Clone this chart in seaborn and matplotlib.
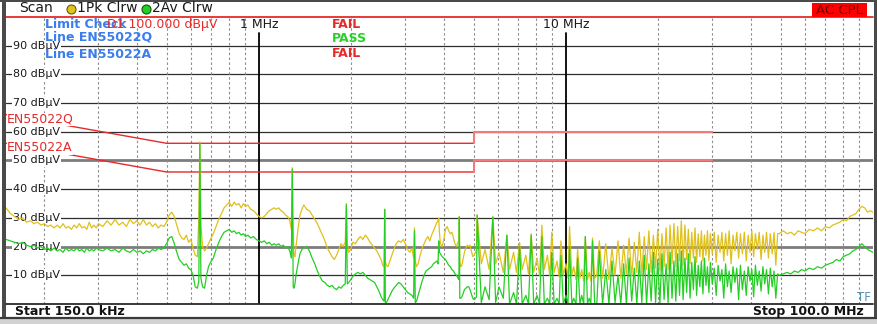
import matplotlib
matplotlib.use("Agg")
import matplotlib.pyplot as plt
import matplotlib.transforms as mtransforms
from matplotlib.patches import Rectangle
from matplotlib.lines import Line2D
import pandas as pd
import seaborn as sns

# ---------------- data (MHz, dBuV) ----------------
seg1_f = [0.150, 0.155, 0.160, 0.165, 0.170, 0.175, 0.180, 0.185, 0.190, 0.195,
          0.200, 0.205, 0.210, 0.215, 0.220, 0.225, 0.230, 0.235, 0.240, 0.245,
          0.250, 0.255, 0.260, 0.265, 0.270, 0.275, 0.280, 0.285, 0.290, 0.295,
          0.300, 0.31, 0.32, 0.33, 0.34, 0.35, 0.36, 0.37, 0.38, 0.39, 0.40,
          0.41, 0.42, 0.43, 0.44, 0.45, 0.46, 0.47, 0.48, 0.49, 0.50, 0.51, 0.52,
          0.53, 0.54, 0.55, 0.56, 0.57, 0.58, 0.59, 0.60, 0.61, 0.62, 0.63]
seg1_pk = [33.5, 31.5, 30.5, 29.5, 30.0, 28.5, 29.0, 28.0, 28.5, 27.5,
           28.0, 27.0, 27.5, 26.5, 27.5, 26.5, 28.0, 26.5, 27.0, 26.0,
           27.5, 26.5, 28.0, 26.5, 27.0, 26.0, 28.5, 26.5, 27.5, 26.5,
           28.0, 27.0, 29.0, 27.5, 29.5, 27.5, 28.5, 27.0, 29.5, 28.0, 29.0,
           27.5, 29.5, 27.5, 28.5, 27.0, 28.0, 26.5, 27.5, 27.0, 28.5, 31.0, 32.0,
           30.5, 27.5, 24.5, 23.0, 22.5, 24.0, 21.5, 22.5, 19.5, 17.0, 16.5]
seg1_av = [22.5, 22.0, 21.5, 21.0, 21.5, 20.5, 20.0, 20.5, 19.5, 20.0,
           19.0, 19.5, 18.5, 19.5, 18.5, 19.0, 18.0, 19.5, 18.5, 19.0,
           18.5, 19.5, 18.5, 19.0, 18.0, 19.5, 18.5, 19.0, 18.5, 19.5,
           19.0, 18.5, 19.5, 18.5, 19.0, 18.0, 19.5, 18.5, 18.0, 19.0, 18.0,
           18.5, 17.5, 18.5, 18.0, 19.0, 18.5, 19.5, 19.0, 19.5, 21.0, 23.0, 23.5,
           21.0, 18.0, 15.5, 14.5, 13.5, 14.0, 12.5, 12.0, 10.0, 6.0, 5.5]

seg2_f = [0.637, 0.642, 0.647, 0.655, 0.665, 0.675, 0.685, 0.695,
          0.71, 0.725, 0.74, 0.755, 0.77, 0.785, 0.80, 0.815, 0.83, 0.845, 0.86,
          0.875, 0.89, 0.905, 0.92, 0.94, 0.96, 0.98, 1.00,
          1.02, 1.04, 1.06, 1.08, 1.10, 1.12, 1.14, 1.16, 1.18, 1.20, 1.22, 1.24,
          1.26, 1.275]
seg2_pk = [30, 56.5, 28, 20, 18.5, 19.5, 21, 22.5,
           24.5, 27, 29.5, 31.5, 33.5, 34.5, 35.5, 34, 35.5, 34.5, 35,
           33.5, 35, 34, 34.5, 33, 32.5, 31.5, 30.5,
           30, 30.5, 31.5, 32.5, 33, 33.5, 33, 33.5, 32.5, 32, 31, 30.5,
           29, 26]
seg2_av = [8, 56, 9, 6, 5.5, 10, 13, 14.5,
           16, 19, 21.5, 23.5, 25, 25.5, 26, 25, 25.5, 24.5, 25,
           24, 24.5, 23.5, 24, 23, 23.5, 22.5, 22,
           21.5, 22, 21, 21.5, 20.5, 21, 20.5, 21, 20, 20.5, 19.5, 20,
           18.5, 16]

seg3_f = [1.284, 1.293, 1.30, 1.31, 1.32, 1.34, 1.36, 1.38, 1.40, 1.43, 1.46,
          1.49, 1.52, 1.55, 1.58, 1.61, 1.64, 1.67, 1.70, 1.73, 1.76, 1.79,
          1.82, 1.85, 1.88, 1.91]
seg3_pk = [47.5, 24, 17, 16.5, 20, 26, 31, 33, 34.5, 33, 32.5,
           31, 29.5, 28, 26, 24, 22, 19.5, 18, 16.5, 15.5, 17,
           19, 21, 20, 21.5]
seg3_av = [47, 6, 5.5, 7, 10, 14, 17.5, 19, 19.5, 20, 18.5,
           16, 14, 11.5, 9.5, 8, 7.5, 6.5, 6, 6.5, 5.5, 5,
           6, 5.5, 6.5, 7]

seg4_f = [1.926, 1.94, 1.96, 1.99, 2.02, 2.06, 2.10, 2.14, 2.18, 2.22, 2.26,
          2.30, 2.34, 2.38, 2.42, 2.46, 2.50, 2.53, 2.555]
seg4_pk = [35, 21, 18, 19, 21.5, 21, 22.5, 23.5, 22.5, 24, 23,
           21.5, 20.5, 19.5, 18.5, 17, 15.5, 13.5, 13]
seg4_av = [34.5, 7, 7.5, 8.5, 9.5, 10.5, 11, 10.5, 11, 10, 9,
           8.5, 8, 7.5, 6, 4.5, 2.5, 1.5, 1]

seg5_f = [2.568, 2.58, 2.60, 2.63, 2.67, 2.71, 2.75, 2.80, 2.85, 2.90, 2.95,
          3.00, 3.05, 3.10, 3.15, 3.19]
seg5_pk = [33, 15, 13.5, 13, 15, 17, 19, 21, 22, 21.5, 22.5,
           21, 19, 18, 19.5, 16]
seg5_av = [33, 0.5, 0.5, 1.5, 3, 4.5, 5.5, 6.5, 7.5, 7, 6,
           5, 4, 3.5, 3, 2]

seg6_f = [3.21, 3.23, 3.26, 3.30, 3.35, 3.40, 3.45, 3.50, 3.55, 3.60, 3.65,
          3.70, 3.75, 3.80, 3.83]
seg6_pk = [26.5, 15, 13, 14, 17, 19.5, 21, 22.5, 23.5, 22, 24,
           25.5, 27, 28.5, 29]
seg6_av = [25.5, 0.5, 1, 3, 5.5, 8, 10, 11.5, 12, 12.5, 13,
           14, 14.5, 15, 14]

seg7_f = [3.852, 3.87, 3.90, 3.95, 4.00, 4.05, 4.10, 4.15, 4.20, 4.25, 4.30,
          4.35, 4.40, 4.45, 4.48, 4.494, 4.51, 4.54, 4.58, 4.62, 4.67, 4.72,
          4.77, 4.82, 4.87, 4.92, 4.97, 5.02, 5.07, 5.11]
seg7_pk = [30, 25, 21, 20, 22.5, 26, 27, 25.5, 24.5, 25, 23,
           21, 20, 21.5, 22, 30.5, 15, 13, 13.5, 15.5, 18, 19.5,
           20.5, 20, 20.5, 18.5, 16.5, 17, 18, 19]
seg7_av = [22, 18, 17.5, 16.5, 16, 15.5, 14.5, 13.5, 13, 12, 11.5,
           10.5, 10, 9, 8.5, 30.3, 2, 2, 2.5, 3.5, 5, 5.5,
           6, 6, 5, 3.5, 2, 1.5, 2, 2.5]

segA_f = [5.136, 5.30, 5.45, 5.62, 5.778, 5.90, 6.05, 6.25, 6.42, 6.55, 6.75, 6.90,
          7.062, 7.20, 7.40, 7.55, 7.704, 7.85, 8.05, 8.20, 8.346, 8.50, 8.70, 8.85,
          8.988, 9.15, 9.35, 9.50, 9.63, 9.80, 10.0, 10.15, 10.27, 10.45, 10.6, 10.78,
          10.91, 11.1, 11.25, 11.42, 11.56, 11.75, 11.9, 12.05, 12.2, 12.4, 12.6, 12.84]
segA_pk = [31, 14, 19, 12, 30.5, 14, 18, 11, 24, 12, 18, 11,
           21.5, 12, 17, 10.5, 24.5, 11, 16, 10, 27.5, 12, 17, 10,
           25, 11, 15, 9.5, 22, 10, 14, 9, 27, 10, 13, 8.5,
           19, 9, 12, 8, 23.5, 8.5, 11, 8, 23, 9, 10, 22]
segA_av = [31, 0.5, 6, 1.5, 30.3, 0.5, 6, 2, 24, 0, 4, 0,
           20, 0, 3, 0, 24, 0, 3, 0, 23.5, 0, 2, 0,
           18, 0, 2, 0, 17, 0, 3, 0, 20, 0, 2, 0,
           16, 0, 3, 0, 23.5, 0, 2, 0, 22, 0, 0, 18.5]

dense_fv = [13.16, 13.80, 14.45, 15.09, 15.73, 16.37, 17.01, 17.66, 18.30, 18.94,
            19.58, 20.22, 20.87, 21.51, 22.15, 22.79, 23.43, 24.08, 24.72, 25.36,
            26.00, 26.64, 27.29, 27.93, 28.57, 29.21, 29.96, 30.85, 31.75, 32.65,
            33.55, 34.5, 35.5, 36.5, 37.55, 38.65, 39.75, 40.85, 42.0, 43.2,
            44.4, 45.65, 46.95, 48.25]
dense_fp = [13.48, 14.12, 14.77, 15.41, 16.05, 16.69, 17.33, 17.98, 18.62, 19.26,
            19.90, 20.54, 21.19, 21.83, 22.47, 23.11, 23.75, 24.40, 25.04, 25.68,
            26.32, 26.96, 27.61, 28.25, 28.89, 29.53, 30.4, 31.3, 32.2, 33.1,
            34.0, 35.0, 36.0, 37.0, 38.1, 39.2, 40.3, 41.4, 42.6, 43.8,
            45.0, 46.3, 47.6, 48.9]
dense_pk_v = [9, 8.5, 10, 9, 10.5, 9.5, 11, 10, 12, 11,
              12.5, 11.5, 13, 12, 14, 13, 15, 13.5, 15.5, 14,
              16, 14.5, 16.5, 15, 17, 15, 17.5, 14.5, 18, 15,
              17, 14, 18.5, 16, 17.5, 15, 18, 16.5, 19, 15.5,
              18, 16, 17.5, 13.5]
dense_pk_p = [21, 19.5, 22, 20.5, 23, 21.5, 25, 23.5, 25.5, 24,
              26, 24.5, 26.5, 27.5, 28, 27, 29, 27.5, 26, 25,
              26.5, 24.5, 25.5, 24, 25.5, 24.5, 25, 24, 25, 24.5,
              25.5, 24, 25, 24.5, 25, 24, 25.5, 24.5, 25, 24,
              25, 24.5, 25, 24.5]
dense_av_v = [0, 0, 0.5, 0, 0, 1, 0, 0.5, 0, 1,
              0.5, 0, 1.5, 0.5, 2, 1, 3, 1.5, 4, 2,
              5, 3, 6, 3.5, 6.5, 4, 7, 3, 8, 2,
              6, 4, 7.5, 1.5, 5, 3, 8, 2.5, 6.5, 4.5,
              7, 3.5, 6, 2]
dense_av_p = [12, 15, 10, 14, 16, 12.5, 15, 17, 14, 18,
              15.5, 17.5, 14, 18, 15, 17.5, 18.5, 16, 17.5, 14.5,
              16.5, 13.5, 15, 16, 13, 14.5, 12.5, 13.5, 12, 14,
              11.5, 13, 12.5, 13.5, 11.5, 13, 12, 13.5, 11.5, 13,
              12, 12.5, 11.5, 10.5]

seg10_f = [49.5, 51, 52.5, 54, 55.5, 57, 58.5, 60, 62, 64, 66, 68, 70, 72, 74,
           76, 78, 80, 82, 84, 86, 88, 90, 92, 94, 96, 98, 100]
seg10_pk = [24.5, 25.5, 24.5, 25, 24, 25.5, 25, 24.5, 26, 25.5, 26.5, 25.5, 27, 26.5,
            27.5, 28, 28.5, 29.5, 29, 30.5, 31, 31.5, 33, 34, 33.5, 32, 32.5, 32]
seg10_av = [10, 10.5, 11, 10.5, 11.5, 11, 12, 11.5, 12.5, 12, 13, 12.5, 13.5, 14,
            14.5, 15.5, 15, 16.5, 17, 17.5, 18.5, 19, 20, 21, 20, 19, 18.5, 18]

# EN55022 limit lines
lim_f_a = [0.15, 0.5, 5.0]
lim_f_b = [5.0, 5.0, 30.0]
limQ_a = [66, 56, 56]
limQ_b = [56, 60, 60]
limA_a = [56, 46, 46]
limA_b = [46, 50, 50]
display_line = 100

grid_levels = [10, 20, 30, 40, 50, 60, 70, 80, 90]
thick_levels = [20, 50]
level_labels = [f"{v} dBµV" for v in grid_levels]
minor_freqs = [0.2, 0.3, 0.4, 0.5, 0.6, 0.7, 0.8, 0.9,
               2, 3, 4, 5, 6, 7, 8, 9, 20, 30, 40, 50, 60, 70, 80, 90]
decade_freqs = [1, 10]
decade_labels = ["1 MHz", "10 MHz"]

# ---------------- assemble sweep ----------------
freq, pk, av = [], [], []
for f_, p_, a_ in [(seg1_f, seg1_pk, seg1_av), (seg2_f, seg2_pk, seg2_av),
                   (seg3_f, seg3_pk, seg3_av), (seg4_f, seg4_pk, seg4_av),
                   (seg5_f, seg5_pk, seg5_av), (seg6_f, seg6_pk, seg6_av),
                   (seg7_f, seg7_pk, seg7_av), (segA_f, segA_pk, segA_av)]:
    freq += f_; pk += p_; av += a_
for fv, fp, pv, pp, avv, avp in zip(dense_fv, dense_fp, dense_pk_v, dense_pk_p,
                                    dense_av_v, dense_av_p):
    freq += [fv, fp]; pk += [pv, pp]; av += [avv, avp]
freq += seg10_f; pk += seg10_pk; av += seg10_av
df = pd.DataFrame({"freq": freq, "pk": pk, "av": av})

# ---------------- figure ----------------
sns.set_theme(style="white")
plt.rcParams['font.family'] = ['DejaVu Sans']

W, H = 877, 324
fig = plt.figure(figsize=(W / 100, H / 100), dpi=100, facecolor='white')


def fx(x):
    return x / W


def fy(y):
    return 1 - y / H


X0, X1, Y0, Y1 = 6, 873, 17, 304
ax = fig.add_axes([fx(X0), fy(Y1), (X1 - X0) / W, (Y1 - Y0) / H])
ax.set_xscale('log')
ax.set_xlim(0.15, 100)
ax.set_ylim(0, 100)
ax.set_axis_off()


def ay(y):
    return (Y1 - y) / (Y1 - Y0)


YEL = '#e0c01a'
GRN = '#22cf22'
RED = '#e52a2a'
RED_L = '#f27a7a'
BLUE = '#3a7deb'

# grid
for lv in grid_levels:
    if lv in thick_levels:
        ax.axhline(lv, color='#7c7c7c', lw=2.0, zorder=1)
    else:
        ax.axhline(lv, color='#2e2e2e', lw=0.9, zorder=1)
for f in minor_freqs:
    ax.axvline(f, color='#8c8c8c', lw=0.8, ls=(0, (2.2, 2.2)), zorder=1)
for f in decade_freqs:
    ax.axvline(f, ymax=ay(33), color='black', lw=1.3, zorder=1)
ax.axhline(display_line, color=RED, lw=1.3, clip_on=False, zorder=3)

blend_y = mtransforms.blended_transform_factory(ax.transAxes, ax.transData)
blend_x = mtransforms.blended_transform_factory(ax.transData, ax.transAxes)
for lv, lab in zip(grid_levels, level_labels):
    ax.text((13 - X0) / (X1 - X0), lv, lab, transform=blend_y, ha='left', va='center',
            fontsize=8, color='#1a1a1a',
            bbox=dict(boxstyle='square,pad=0.1', fc='white', ec='none'), zorder=2)

# limit lines
for xs, ys, c, w in [(lim_f_a, limQ_a, RED, 1.0), (lim_f_b, limQ_b, RED_L, 1.5),
                     (lim_f_a, limA_a, RED, 1.0), (lim_f_b, limA_b, RED_L, 1.5)]:
    sns.lineplot(x=xs, y=ys, color=c, lw=w, ax=ax, estimator=None, sort=False,
                 legend=False, zorder=3)

# traces
sns.lineplot(data=df, x='freq', y='pk', color=YEL, lw=0.9, ax=ax, estimator=None,
             sort=False, legend=False, zorder=4)
sns.lineplot(data=df, x='freq', y='av', color=GRN, lw=0.9, ax=ax, estimator=None,
             sort=False, legend=False, zorder=5)
ax.set_axis_off()

# limit labels
for txt, yy in [("EN55022Q", 119.5), ("EN55022A", 148)]:
    ax.text((7 - X0) / (X1 - X0), ay(yy), txt, transform=ax.transAxes, ha='left',
            va='center', fontsize=9, color=RED,
            bbox=dict(boxstyle='square,pad=0.02', fc='white', ec='none'), zorder=3.5)

# decade labels
for f, lab in zip(decade_freqs, decade_labels):
    ax.text(f, ay(24.5), lab, transform=blend_x, ha='center', va='center',
            fontsize=9, color='#1a1a1a', zorder=6)

# status texts
fig.text(fx(45), fy(24.5), "Limit Check", ha='left', va='center', fontsize=9,
         fontweight='bold', color=BLUE)
fig.text(fx(217), fy(24.5), "D1 100.000 dBµV", ha='right', va='center', fontsize=9,
         color=RED)
fig.text(fx(45), fy(37.5), "Line EN55022Q", ha='left', va='center', fontsize=9,
         fontweight='bold', color=BLUE)
fig.text(fx(45), fy(54.5), "Line EN55022A", ha='left', va='center', fontsize=9,
         fontweight='bold', color=BLUE)
fig.text(fx(332), fy(24.5), "FAIL", ha='left', va='center', fontsize=9,
         fontweight='bold', color=RED)
fig.text(fx(332), fy(39), "PASS", ha='left', va='center', fontsize=9,
         fontweight='bold', color='#27d127')
fig.text(fx(332), fy(53.5), "FAIL", ha='left', va='center', fontsize=9,
         fontweight='bold', color=RED)

# header
fig.text(fx(19), fy(8.5), "Scan", ha='left', va='center', fontsize=10, color='#1a1a1a')
fig.add_artist(Line2D([fx(71)], [fy(8.5)], marker='o', ms=6.5, mfc='#e2c21c', mec='#6b5a00',
                      mew=0.8, transform=fig.transFigure))
fig.text(fx(77), fy(8.5), "1Pk Clrw", ha='left', va='center', fontsize=10, color='#1a1a1a')
fig.add_artist(Line2D([fx(146)], [fy(8.5)], marker='o', ms=6.5, mfc='#22cf22', mec='#0d5a0d',
                      mew=0.8, transform=fig.transFigure))
fig.text(fx(152), fy(8.5), "2Av Clrw", ha='left', va='center', fontsize=10, color='#1a1a1a')
fig.add_artist(Rectangle((fx(812), fy(17)), fx(867) - fx(812), fy(3) - fy(17),
                         transform=fig.transFigure, fc='#ff0000', ec='none'))
fig.text(fx(839.5), fy(10), "AC CPL", ha='center', va='center', fontsize=9.5, color='#6e0000')

# footer
fig.text(fx(15), fy(311.5), "Start 150.0 kHz", ha='left', va='center', fontsize=9,
         fontweight='bold', color='#111111')
fig.text(fx(864), fy(311.5), "Stop 100.0 MHz", ha='right', va='center', fontsize=9,
         fontweight='bold', color='#111111')
fig.text(fx(864), fy(297.5), "TF", ha='center', va='center', fontsize=8.5, color='#5a8fb5')

# frame
fig.add_artist(Line2D([fx(X0), fx(X1)], [fy(Y1), fy(Y1)], color='#2a2a2a', lw=1.3,
                      transform=fig.transFigure))
fig.add_artist(Rectangle((0, 0), 1, fy(318), transform=fig.transFigure, fc='#d2d2d2', ec='none'))
fig.add_artist(Line2D([0, 1], [fy(317.5), fy(317.5)], color='#3a3a3a', lw=1.6,
                      transform=fig.transFigure))
fig.add_artist(Rectangle((fx(1.5), fy(318)), fx(4), fy(0) - fy(318), transform=fig.transFigure,
                         fc='#4a4a4a', ec='none'))
fig.add_artist(Rectangle((fx(873.5), fy(318)), fx(3), fy(0) - fy(318), transform=fig.transFigure,
                         fc='#4a4a4a', ec='none'))
fig.add_artist(Rectangle((0, fy(1.5)), 1, fy(0) - fy(1.5), transform=fig.transFigure,
                         fc='#4a4a4a', ec='none'))

fig.savefig("out.png", dpi=100, facecolor='white')
